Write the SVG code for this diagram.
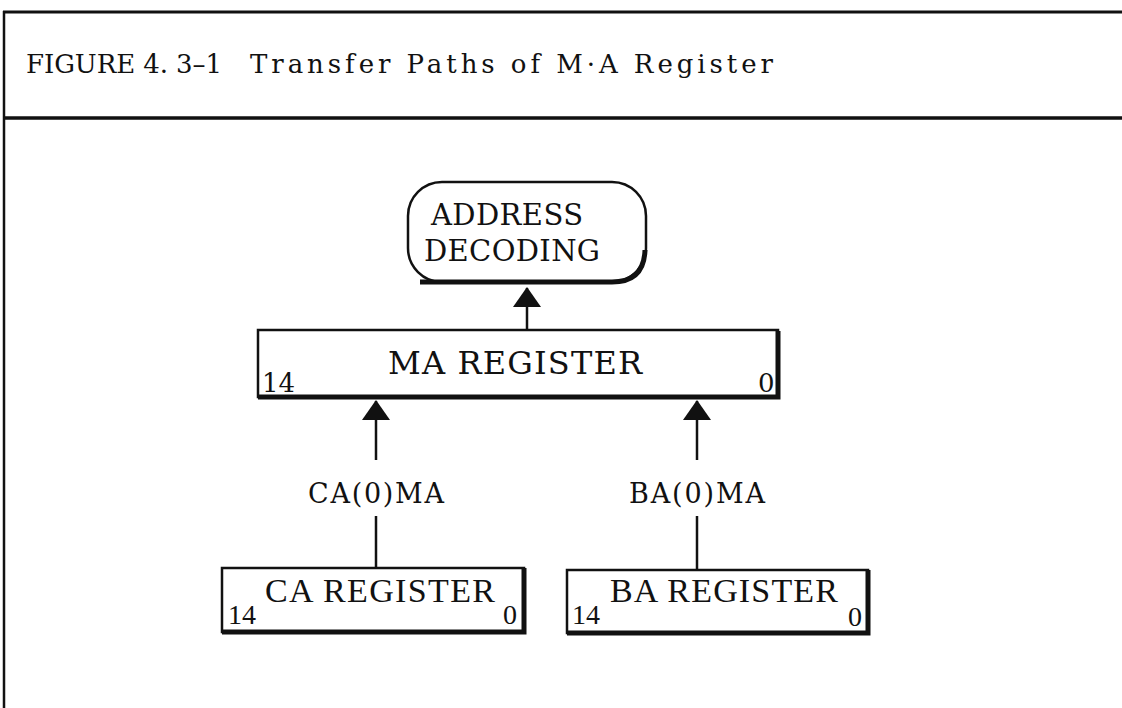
<svg xmlns="http://www.w3.org/2000/svg" width="1122" height="708" viewBox="0 0 1122 708">
<style>
.t{font-family:"DejaVu Serif","Liberation Serif",serif;fill:#111}
.c{font-family:"Liberation Serif","DejaVu Serif",serif;fill:#111}
.frame{stroke:#111;fill:none}
.box{fill:#fff;stroke:#111;stroke-width:2.5}
.shadow{stroke:#111;stroke-width:5;fill:none}
.conn{stroke:#111;stroke-width:2.5;fill:none}
</style>
<defs>
<marker id="ah" viewBox="0 0 28 20" refX="14" refY="1" markerWidth="28" markerHeight="20" markerUnits="userSpaceOnUse" orient="0">
<path d="M14 0 L28 20 L0 20 Z" fill="#111"/>
</marker>
</defs>
<rect width="1122" height="708" fill="#fff"/>
<g id="frame">
<line class="frame" x1="3" y1="12" x2="1122" y2="12" stroke-width="3"/>
<line class="frame" x1="4" y1="11" x2="4" y2="708" stroke-width="2.5"/>
<line class="frame" x1="3" y1="118" x2="1122" y2="118" stroke-width="3.5"/>
<text class="t" y="73" font-size="26"><tspan x="26" textLength="196" lengthAdjust="spacing">FIGURE 4. 3–1</tspan><tspan x="250" textLength="523" lengthAdjust="spacing">Transfer Paths of M·A Register</tspan></text>
</g>
<g id="connectors">
<line class="conn" x1="527" y1="330" x2="527" y2="288" marker-end="url(#ah)"/>
<line class="conn" x1="376" y1="460" x2="376" y2="401" marker-end="url(#ah)"/>
<line class="conn" x1="376" y1="516" x2="376" y2="568"/>
<line class="conn" x1="697" y1="460" x2="697" y2="401" marker-end="url(#ah)"/>
<line class="conn" x1="697" y1="516" x2="697" y2="569"/>
<text class="t" x="376" y="503" font-size="27" text-anchor="middle" textLength="136" lengthAdjust="spacing">CA(0)MA</text>
<text class="t" x="697" y="503" font-size="27" text-anchor="middle" textLength="136" lengthAdjust="spacing">BA(0)MA</text>
</g>
<g id="address-decoding">
<rect class="box" x="408" y="182" width="238" height="100" rx="34" ry="34"/>
<path class="shadow" d="M420 282 L612 282 Q644 282 645 250"/>
<text class="t" x="507" y="225" font-size="29" text-anchor="middle" textLength="152" lengthAdjust="spacing">ADDRESS</text>
<text class="t" x="512" y="261" font-size="29" text-anchor="middle" textLength="176" lengthAdjust="spacing">DECODING</text>
</g>
<g id="ma-register">
<rect class="box" x="258" y="330" width="520" height="67"/>
<path class="shadow" d="M258 397 L778 397 L778 331"/>
<text class="t" x="515" y="374" font-size="32" text-anchor="middle" textLength="254" lengthAdjust="spacing">MA REGISTER</text>
<text class="t" x="262" y="392" font-size="26">14</text>
<text class="t" x="758" y="392" font-size="26">0</text>
</g>
<g id="ca-register">
<rect class="box" x="222" y="568" width="302" height="64"/>
<path class="shadow" d="M222 632 L524 632 L524 568"/>
<text class="c" x="265" y="602" font-size="34" textLength="230" lengthAdjust="spacing">CA REGISTER</text>
<text class="c" x="228" y="624" font-size="28">14</text>
<text class="c" x="503" y="624" font-size="28">0</text>
</g>
<g id="ba-register">
<rect class="box" x="567" y="570" width="301" height="63"/>
<path class="shadow" d="M567 633 L868 633 L868 570"/>
<text class="c" x="610" y="602" font-size="34" textLength="228" lengthAdjust="spacing">BA REGISTER</text>
<text class="c" x="572" y="624" font-size="28">14</text>
<text class="c" x="848" y="626" font-size="28">0</text>
</g>
</svg>
